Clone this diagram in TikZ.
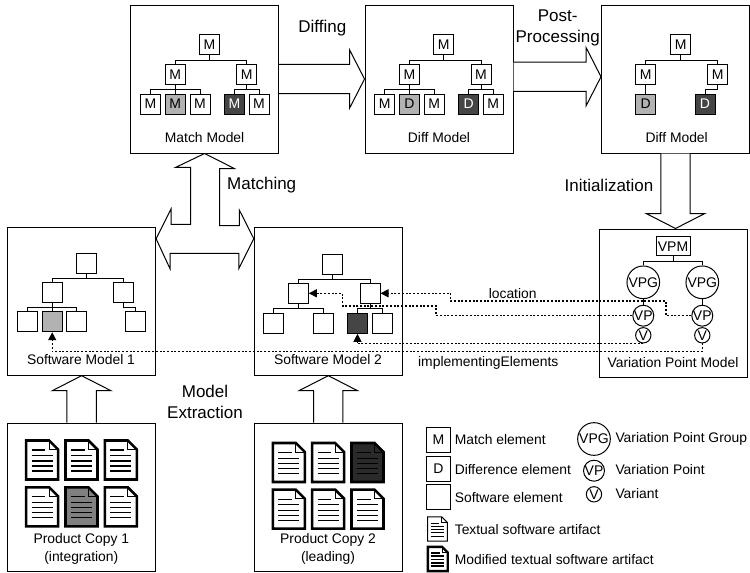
\documentclass[tikz,border=0pt]{standalone}
\usepackage{fontspec}
\setmainfont{Liberation Sans}
\usepackage{xcolor}
\usetikzlibrary{shapes,arrows.meta,positioning,calc}

\definecolor{lightelem}{HTML}{B2B2B2}
\definecolor{darkelem}{HTML}{454545}
\definecolor{lightdoc}{HTML}{808080}
\definecolor{darkdoc}{HTML}{2A2A2A}

\begin{document}
\begin{tikzpicture}[
    x=0.75pt,
    y=-0.75pt,
    line width=0.75pt,
    docline/.initial=0.85pt,
    modelbox/.style={rectangle, draw, inner sep=0pt, minimum size=111pt},
    element/.style={rectangle, draw, fill=white, inner sep=0pt, minimum size=15pt, font=\fontsize{10.5}{12}\selectfont},
    keybox/.style={element, minimum size=18.5pt},
    vpm/.style={rectangle, draw, fill=white, inner sep=0pt, minimum width=25.5pt, minimum height=14.5pt, font=\fontsize{10.5}{12}\selectfont},
    vpg/.style={circle, draw, fill=white, inner sep=0pt, minimum size=24.5pt, font=\fontsize{10.5}{12}\selectfont},
    vpoint/.style={circle, draw, fill=white, inner sep=0pt, minimum size=15.5pt, font=\fontsize{10.5}{12}\selectfont},
    variant/.style={circle, draw, fill=white, inner sep=0pt, minimum size=11.5pt, font=\fontsize{10.5}{12}\selectfont},
    label/.style={font=\fontsize{10.4}{13.5}\selectfont, align=center, inner sep=0pt},
    keylabel/.style={label, anchor=west},
    step label/.style={font=\fontsize{12.75}{15.75}\selectfont, align=center, inner sep=0pt},
    tree/.style={line width=0.75pt},
    link/.style={dash pattern=on 1.5pt off 1.3pt, line width=0.9pt, -{Triangle[length=6pt,width=6pt]}},
    fatarrow/.style={draw, fill=white, to path={
        let \p1=($(\tikztotarget)!11.25pt!(\tikztostart)$) in
        ($(\tikztostart)!11pt!90:(\tikztotarget)$)
        -- ($(\p1)!11pt!90:(\tikztotarget)$) -- ($(\p1)!22pt!90:(\tikztotarget)$)
        -- (\tikztotarget)
        -- ($(\p1)!22pt!-90:(\tikztotarget)$) -- ($(\p1)!11pt!-90:(\tikztotarget)$)
        -- ($(\tikztostart)!11pt!-90:(\tikztotarget)$)}},
    textdoc/.pic={
        \draw[pic actions] (-16,-19.5) -- (7,-19.5) -- (16,-10.5) -- (16,19.5) -- (-16,19.5) -- cycle;
        \draw[line width=0.6pt] (7,-19.5) -- (7,-10.5) -- (16,-10.5);
        \draw[line width=\pgfkeysvalueof{/tikz/docline}] (-10.5,-10) -- (3,-10);
        \foreach \ly in {-4.3,1,6,11} {
            \draw[line width=\pgfkeysvalueof{/tikz/docline}] (-10.5,\ly) -- (10.5,\ly);
        }
    }
]
    \useasboundingbox (0,0) rectangle (750,572);

    % Model boxes
    \node [modelbox] (matchmodel) at (204.6,79) {};
    \node [modelbox] (diffmodel) at (439,79) {};
    \node [modelbox] (postmodel) at (675.5,79) {};
    \node [modelbox] (softmodela) at (81.6,301.2) {};
    \node [modelbox] (softmodelb) at (328.3,301.2) {};
    \node [modelbox] (vpmodel) at (673.7,303) {};
    \node [modelbox] (copya) at (81.6,497.2) {};
    \node [modelbox] (copyb) at (328.3,497.2) {};

    \node [label] (matchname) at (204.6,137.5) {Match Model};
    \node [label] (diffname) at (439,137.5) {Diff Model};
    \node [label] (postname) at (676.7,137.5) {Diff Model};
    \node [label] (softnamea) at (81,360) {Software Model 1};
    \node [label] (softnameb) at (328,360) {Software Model 2};
    \node [label] (vpname) at (673,362.7) {Variation Point Model};
    \node [label] (copynamea) at (81.3,549) {Product Copy 1\\(integration)};
    \node [label] (copynameb) at (328,549) {Product Copy 2\\(leading)};

    %--- Process arrows ---
    \draw [fatarrow] (matchmodel.east) to (diffmodel.west);
    \draw [fatarrow] ([yshift=1.7pt]diffmodel.east) to ([yshift=1.7pt]postmodel.west);
    \draw [fatarrow] (postmodel.south) to (postmodel.south |- vpmodel.north);
    \draw [fatarrow] (copya.north) to (softmodela.south);
    \draw [fatarrow] (copyb.north) to (softmodelb.south);

    % Matching arrow, three heads on one outline
    \coordinate (crossleft) at ([yshift=-9pt]softmodela.north east);
    \coordinate (crossright) at ([yshift=-9pt]softmodelb.north west);
    \draw [fill=white] (matchmodel.south) -- ++(29.7,15) -- ++(-14.8,0) -- ++(0,57) -- ++(19.8,0) -- ++(0,-15.5)
        -- (crossright) -- ++(-15,30) -- ++(0,-15.3) -- ++(-68.8,0) -- ++(0,15.3)
        -- (crossleft) -- ++(15,-29.8) -- ++(0,15.5) -- ++(19.5,0) -- ++(0,-57) -- ++(-15,0) -- cycle;

    \node [step label] (diffing) at (322.3,28.3) {Diffing};
    \node [step label] (postproc) at (557.7,27.5) {Post-\\Processing};
    \node [step label] (matching) at (261.7,185) {Matching};
    \node [step label] (initial) at (609,185) {Initialization};
    \node [step label] (extract) at (205,402) {Model\\Extraction};

    %--- Match model tree ---
    \node [element] (mroot) at (209.5,44.5) {M};
    \node [element] (mleft) at (175.2,74.3) {M};
    \node [element] (mright) at (246.7,74.3) {M};
    \node [element] (ma) at (150.5,104) {M};
    \node [element, fill=lightelem] (mb) at (175.2,104) {M};
    \node [element] (mc) at (200,104) {M};
    \node [element, fill=darkelem, text=white] (md) at (234.5,104) {M};
    \node [element] (me) at (259,104) {M};

    \draw [tree] (mroot.south) -- ++(0,5) -| (mleft.north);
    \draw [tree] (mroot.south) -- ++(0,5) -| (mright.north);
    \draw [tree] (mleft.south) -- ++(0,4.7) -| (ma.north);
    \draw [tree] (mleft.south) -- (mb.north);
    \draw [tree] (mleft.south) -- ++(0,4.7) -| (mc.north);
    \draw [tree] (mright.south) -- ++(0,4.7) -| (md.north);
    \draw [tree] (mright.south) -- ++(0,4.7) -| (me.north);

    %--- Diff model tree ---
    \node [element] (droot) at (443.7,44.5) {M};
    \node [element] (dleft) at (409.5,74.3) {M};
    \node [element] (dright) at (481,74.3) {M};
    \node [element] (da) at (384.7,104) {M};
    \node [element, fill=lightelem] (db) at (409.5,104) {D};
    \node [element] (dc) at (434.2,104) {M};
    \node [element, fill=darkelem, text=white] (dd) at (468.7,104) {D};
    \node [element] (de) at (493.2,104) {M};

    \draw [tree] (droot.south) -- ++(0,5) -| (dleft.north);
    \draw [tree] (droot.south) -- ++(0,5) -| (dright.north);
    \draw [tree] (dleft.south) -- ++(0,4.7) -| (da.north);
    \draw [tree] (dleft.south) -- (db.north);
    \draw [tree] (dleft.south) -- ++(0,4.7) -| (dc.north);
    \draw [tree] (dright.south) -- ++(0,4.7) -| (dd.north);
    \draw [tree] (dright.south) -- ++(0,4.7) -| (de.north);

    %--- Post-processed diff model tree ---
    \node [element] (proot) at (680.7,44.5) {M};
    \node [element] (pleft) at (645.7,74.3) {M};
    \node [element] (pright) at (717.7,74.3) {M};
    \node [element, fill=lightelem] (pa) at (645.7,104) {D};
    \node [element, fill=darkelem, text=white] (pb) at (705,104) {D};

    \draw [tree] (proot.south) -- ++(0,5) -| (pleft.north);
    \draw [tree] (proot.south) -- ++(0,5) -| (pright.north);
    \draw [tree] (pleft.south) -- (pa.north);
    \draw [tree] (pright.south) -- ++(0,4.5) -| (pb.north);

    %--- Software model 1 tree ---
    \node [element] (aroot) at (86.5,263.3) {};
    \node [element] (aleft) at (52.2,292.3) {};
    \node [element] (aright) at (123.5,292.3) {};
    \node [element] (aa) at (27.3,321.7) {};
    \node [element, fill=lightelem] (ab) at (52.2,321.7) {};
    \node [element] (ac) at (76.5,321.7) {};
    \node [element] (ad) at (135.7,321.7) {};

    \draw [tree] (aroot.south) -- ++(0,4.5) -| (aleft.north);
    \draw [tree] (aroot.south) -- ++(0,4.5) -| (aright.north);
    \draw [tree] (aleft.south) -- ++(0,4.5) -| (aa.north);
    \draw [tree] (aleft.south) -- (ab.north);
    \draw [tree] (aleft.south) -- ++(0,4.5) -| (ac.north);
    \draw [tree] (aright.south) -- ++(0,4.5) -| (ad.north);

    %--- Software model 2 tree ---
    \node [element] (broot) at (332.7,264) {};
    \node [element] (bleft) at (298.3,293.3) {};
    \node [element] (bright) at (370,293.3) {};
    \node [element] (ba) at (273.7,323.3) {};
    \node [element] (bb) at (323,323.3) {};
    \node [element, fill=darkelem] (bc) at (357.5,323.3) {};
    \node [element] (bd) at (382,323.3) {};

    \draw [tree] (broot.south) -- ++(0,4.5) -| (bleft.north);
    \draw [tree] (broot.south) -- ++(0,4.5) -| (bright.north);
    \draw [tree] (bleft.south) -- ++(0,4.5) -| (ba.north);
    \draw [tree] (bleft.south) -- ++(0,4.5) -| (bb.north);
    \draw [tree] (bright.south) -- ++(0,4.5) -| (bc.north);
    \draw [tree] (bright.south) -- ++(0,4.5) -| (bd.north);

    %--- Variation point model ---
    \node [vpm] (vproot) at (673,246.3) {VPM};
    \node [vpg] (vpga) at (643.3,282.3) {VPG};
    \node [vpg] (vpgb) at (702.3,282.3) {VPG};
    \node [vpoint] (vpa) at (643.3,315.7) {VP};
    \node [vpoint] (vpb) at (702.3,315.7) {VP};
    \node [variant] (va) at (643.3,335.3) {V};
    \node [variant] (vb) at (702.3,335.3) {V};

    \draw [tree] (vproot.south) -- ++(0,5.3) -| (vpga.north);
    \draw [tree] (vproot.south) -- ++(0,5.3) -| (vpgb.north);
    \draw [tree] (vpga) -- (vpa);
    \draw [tree] (vpgb) -- (vpb);
    \draw [tree] (vpa) -- (va);
    \draw [tree] (vpb) -- (vb);

    %--- Dotted references ---
    \draw [link] (vpb.west) -- ++(-25.3,0) -- ++(0,-14.7) -- ++(-215.7,0) |- (bright.east);
    \draw [link] (vpa.west) -- ++(-196.3,0) -- ++(0,-9.7) -- ++(-93.4,0) |- (bleft.east);
    \draw [link] (va.south) -| (bc.south);
    \draw [link] (vb.south) -- ++(0,8) -| (ab.south);

    \node [label] (location) at (512.7,293.3) {location};
    \node [label] (implementing) at (488.3,362.7) {implementingElements};

    %--- Product copies ---
    \pic [line width=1.9pt, fill=white] (doca) at (42.2,460) {textdoc};
    \pic [line width=1.9pt, fill=white] (docb) at (81.5,460) {textdoc};
    \pic [line width=1.9pt, fill=white] (docc) at (120.8,460) {textdoc};
    \pic [line width=1.9pt, fill=white] (docd) at (42.2,506.8) {textdoc};
    \pic [line width=1.9pt, fill=lightdoc] (doce) at (81.5,506.8) {textdoc};
    \pic [line width=1.9pt, fill=white] (docf) at (120.8,506.8) {textdoc};

    \pic [line width=1.9pt, fill=white] (docg) at (288.8,462.5) {textdoc};
    \pic [line width=1.9pt, fill=white] (doch) at (328.2,462.5) {textdoc};
    \pic [line width=1.9pt, fill=darkdoc] (doci) at (367.5,462.5) {textdoc};
    \pic [line width=1.9pt, fill=white] (docj) at (288.8,509.2) {textdoc};
    \pic [line width=1.9pt, fill=white] (dock) at (328.2,509.2) {textdoc};
    \pic [line width=1.9pt, fill=white] (docl) at (367.5,509.2) {textdoc};

    %--- Legend ---
    \node [keybox] (keym) at (438.4,440) {M};
    \node [keybox] (keyd) at (438.4,468.8) {D};
    \node [keybox] (keys) at (438.4,496.8) {};
    \pic [scale=0.62, line width=0.75pt, fill=white, docline=0.45pt] (keydoc) at (437.5,529) {textdoc};
    \pic [scale=0.62, line width=1.8pt, fill=white, docline=1.3pt] (keymod) at (437.8,559) {textdoc};

    \node [keylabel] (keymtext) at (454.3,439.3) {Match element};
    \node [keylabel] (keydtext) at (454.3,469.3) {Difference element};
    \node [keylabel] (keystext) at (454.3,497.3) {Software element};
    \node [keylabel] (keydoctext) at (454.3,529.3) {Textual software artifact};
    \node [keylabel] (keymodtext) at (454.3,559.3) {Modified textual software artifact};

    \node [vpg] (keyvpg) at (594,439) {VPG};
    \node [vpoint] (keyvp) at (594,470.7) {VP};
    \node [variant] (keyv) at (594,494.3) {V};

    \node [keylabel] (keyvpgtext) at (615,439) {Variation Point Group};
    \node [keylabel] (keyvptext) at (615,470) {Variation Point};
    \node [keylabel] (keyvtext) at (615,494) {Variant};

\end{tikzpicture}
\end{document}
